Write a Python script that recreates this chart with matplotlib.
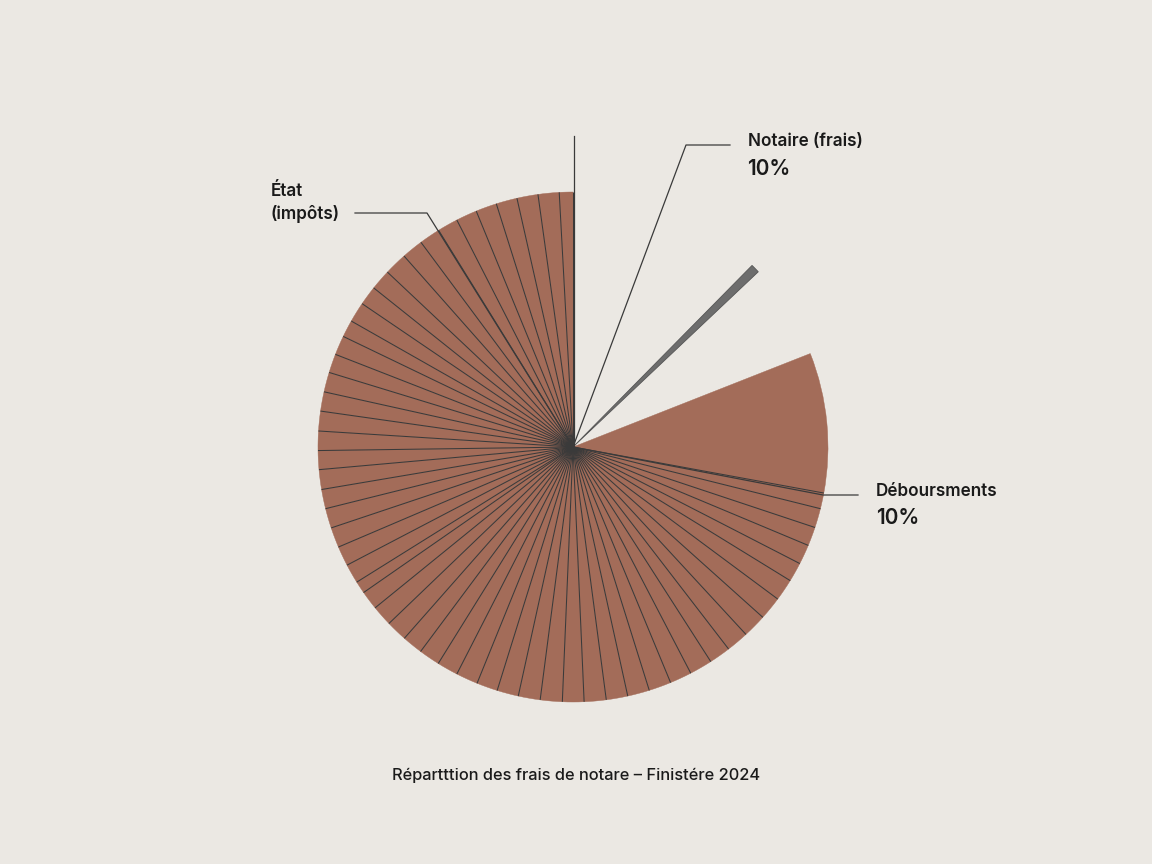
import numpy as np
import matplotlib
matplotlib.use("Agg")
import matplotlib.pyplot as plt

# slice sizes in degrees, read counter-clockwise from the top (90 deg)
etat_slices = [3.1, 4.8, 4.8, 4.8, 4.8, 4.8, 4.7, 4.8, 4.9, 5.2, 4.7, 4.4, 4.6, 3.9,
               4.4, 4.3, 4.5, 4.4, 4.5, 4.4, 4.3, 4.5, 4.4, 4.5, 4.6, 4.5, 4.4, 2.8,
               4.3, 4.7, 4.8, 4.7, 4.8, 4.8, 5.0, 4.8, 4.9, 5.0, 5.0, 4.9, 5.0, 4.9,
               5.0, 5.1, 5.0, 5.2, 4.9, 5.1, 5.4, 5.3, 5.0, 4.4, 4.5, 4.3, 4.4, 3.6]
debours_slice = 31.9
gap_1 = 21.9
notaire_slice = 2.0
gap_2 = 44.6

labels = ["État\n(impôts)", "Notaire (frais)", "Déboursments"]
pcts = ["", "10%", "10%"]
title = "Répartttion des frais de notare – Finistére 2024"

bg = "#ebe8e3"
brown = "#a36c59"
grey = "#6d6d6d"
line_col = "#3a3a3a"
txt_col = "#1a1a1a"

plt.rcParams["font.family"] = ["Inter", "DejaVu Sans"]

fig = plt.figure(figsize=(11.52, 8.64), dpi=100, facecolor=bg)
ax = fig.add_axes([0, 0, 1, 1])
ax.set_facecolor(bg)

H = 864
cx, cy = 573, H - 447
r = 255

sizes = etat_slices + [debours_slice, gap_1, notaire_slice, gap_2]
colors = [brown] * len(etat_slices) + [brown, bg, grey, bg]
wedges, _ = ax.pie(sizes, startangle=90, counterclock=True, colors=colors,
                   center=(cx, cy), radius=r, frame=True,
                   wedgeprops=dict(linewidth=0.3, edgecolor=brown))
ax.set_xlim(0, 1152)
ax.set_ylim(0, H)
ax.set_aspect("equal")
ax.axis("off")
wedges[-3].set_visible(False)
wedges[-1].set_visible(False)
wedges[-2].set_edgecolor("#555555")
wedges[-2].set_linewidth(0.6)

# radial dividers between the etat slices
edges = 90 + np.concatenate([[0], np.cumsum(etat_slices)])
for a in edges:
    t = np.radians(a)
    ax.plot([cx, cx + r * np.cos(t)], [cy, cy + r * np.sin(t)],
            color=line_col, lw=0.75, solid_capstyle="butt")

# leader lines
ax.plot([cx + 1, cx + 1], [cy, H - 136], color=line_col, lw=0.9)
ax.plot([cx, 427, 355], [cy, H - 213, H - 213], color=line_col, lw=0.9)
ax.plot([cx, 686, 730], [cy, H - 145, H - 145], color=line_col, lw=0.9)
ax.plot([cx, 823, 858], [cy, H - 495, H - 495], color=line_col, lw=0.9)

# labels
ax.text(271, H - 203, labels[0], ha="left", va="center", fontsize=12.3,
        fontweight="semibold", color=txt_col, linespacing=1.4)
ax.text(748, H - 142, labels[1], ha="left", va="center", fontsize=12.3,
        fontweight="semibold", color=txt_col)
ax.text(747, H - 169, pcts[1], ha="left", va="center", fontsize=15,
        fontweight="semibold", color=txt_col)
ax.text(876, H - 492, labels[2], ha="left", va="center", fontsize=12.3,
        fontweight="semibold", color=txt_col)
ax.text(876, H - 518, pcts[2], ha="left", va="center", fontsize=15,
        fontweight="semibold", color=txt_col)

ax.text(576, H - 775, title, ha="center", va="center", fontsize=11.8,
        fontweight="medium", color=txt_col)

fig.savefig("out.png", dpi=100, facecolor=bg)
